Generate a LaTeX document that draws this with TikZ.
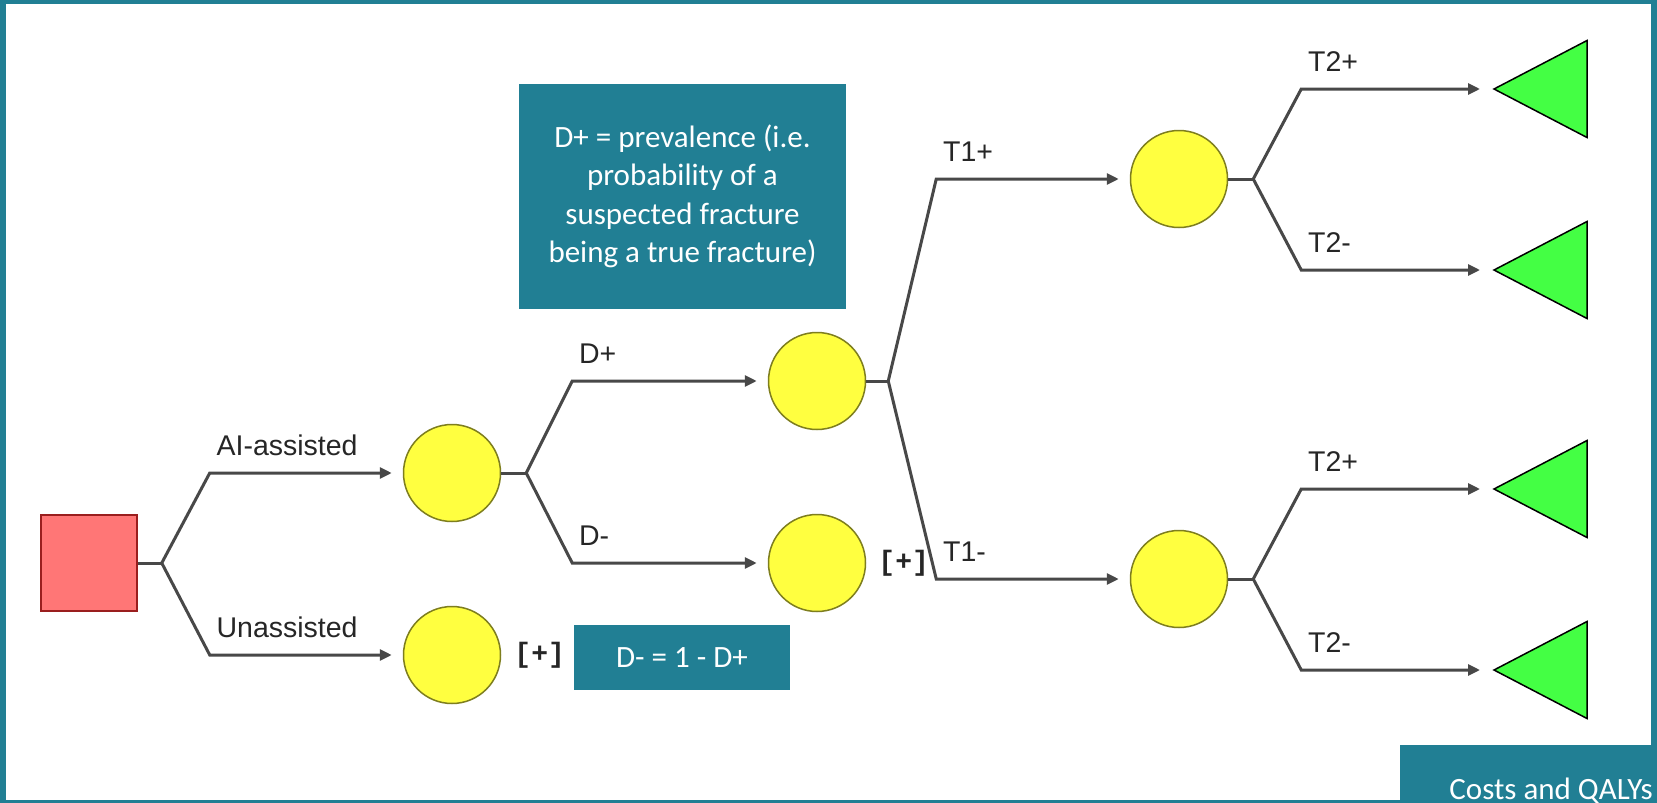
\documentclass[tikz,border=0pt]{standalone}
\usepackage{fontspec}
\setmainfont{Liberation Sans}
\newfontfamily\calibri{Carlito}
\newfontfamily\plusfont{Liberation Mono}
\usepackage{xcolor}
\usetikzlibrary{
  positioning,
  arrows.meta,
  calc
}
\definecolor{tealbox}{HTML}{217F94}
\definecolor{chanceyellow}{HTML}{FFFF40}
\definecolor{chanceedge}{HTML}{7E7E1E}
\definecolor{decisionred}{HTML}{FF7676}
\definecolor{decisionedge}{HTML}{9A1E1E}
\definecolor{termgreen}{HTML}{44FF44}
\definecolor{branchgray}{HTML}{484848}

\begin{document}
\begin{tikzpicture}[
    x=1pt, y=-1pt,
    >={Triangle[length=12pt, width=11pt]},
    chance/.style={circle, draw=chanceedge, line width=1.5pt, fill=chanceyellow, minimum size=97pt, inner sep=0pt},
    decision/.style={rectangle, draw=decisionedge, line width=1.5pt, fill=decisionred, minimum size=96pt, inner sep=0pt},
    terminal/.style={draw=black, line width=1.5pt, fill=termgreen, line join=miter},
    branch/.style={draw=branchgray, line width=3pt},
    tochance/.style={branch, ->, shorten >=11pt},
    toleaf/.style={branch, ->, shorten >=14pt},
    lab/.style={anchor=base west, xshift=2pt, yshift=18pt, text=black!85, font=\fontsize{28.5}{32}\selectfont},
    plus/.style={inner sep=0pt, text=black!85, font=\plusfont\bfseries\fontsize{28}{32}\selectfont},
    note/.style={fill=tealbox, text=white, inner sep=0pt, align=center, font=\calibri\fontsize{31}{38.5}\selectfont}
]
    % 边框
    \useasboundingbox (0,0) rectangle (1657,803);
    \fill[tealbox] (0,0) rectangle (1657,803);
    \fill[white] (6,4) rectangle (1651,800);

    % 说明框
    \node[note, minimum width=327pt, minimum height=225pt] (prevnote) at (682.5,196.5)
        {D+ = prevalence (i.e.\\ probability of a\\ suspected fracture\\ being a true fracture)};
    \node[note, minimum width=216pt, minimum height=65pt] (dmnote) at (682,657.5) {D- = 1 - D+};
    \fill[tealbox] (1400,745) rectangle (1657,803);
    \node[anchor=base east, text=white, inner sep=0pt, font=\calibri\fontsize{31}{36}\selectfont] (costs) at (1653,799) {Costs and QALYs};

    % 决策节点与机会节点
    \node[decision] (dec) at (89,563) {};
    \node[chance] (ai) at (452,473) {};
    \node[chance] (un) at (452,655) {};
    \node[chance] (dp) at (817,381) {};
    \node[chance] (dm) at (817,563) {};
    \node[chance] (tp) at (1179,179) {};
    \node[chance] (tm) at (1179,579) {};
    \node[plus, right=13pt of un] (unplus) {[+]};
    \node[plus, right=12pt of dm] (dmplus) {[+]};

    % 末端节点
    \coordinate (epp) at (1494,89);
    \coordinate (epm) at (1494,270);
    \coordinate (emp) at (1494,489);
    \coordinate (emm) at (1494,670);
    \foreach \e in {epp,epm,emp,emm}
        \draw[terminal] (\e) -- ++(93,-48.5) -- ++(0,97) -- cycle;

    % 分叉点
    \coordinate (f0) at ($(dec.east)+(24,0)$);
    \coordinate (f1) at ($(ai.east)+(25,0)$);
    \coordinate (f2) at ($(dp.east)+(22,0)$);
    \coordinate (f3) at ($(tp.east)+(25,0)$);
    \coordinate (f4) at ($(tm.east)+(25,0)$);
    \foreach \n/\f in {dec/f0, ai/f1, dp/f2, tp/f3, tm/f4}
        \draw[branch] (\n) -- (\f);

    % 分支
    \draw[tochance] (f0) -- ($(f0 |- ai)+(48,0)$) node[lab] {AI-assisted} -- (ai);
    \draw[tochance] (f0) -- ($(f0 |- un)+(48,0)$) node[lab] {Unassisted} -- (un);
    \draw[tochance] (f1) -- ($(f1 |- dp)+(46,0)$) node[lab] {D+} -- (dp);
    \draw[tochance] (f1) -- ($(f1 |- dm)+(46,0)$) node[lab] {D-} -- (dm);
    \draw[tochance] (f2) -- ($(f2 |- tp)+(48,0)$) node[lab] {T1+} -- (tp);
    \draw[tochance] (f2) -- ($(f2 |- tm)+(48,0)$) node[lab] {T1-} -- (tm);
    \draw[toleaf] (f3) -- ($(f3 |- epp)+(48,0)$) node[lab] {T2+} -- (epp);
    \draw[toleaf] (f3) -- ($(f3 |- epm)+(48,0)$) node[lab] {T2-} -- (epm);
    \draw[toleaf] (f4) -- ($(f4 |- emp)+(48,0)$) node[lab] {T2+} -- (emp);
    \draw[toleaf] (f4) -- ($(f4 |- emm)+(48,0)$) node[lab] {T2-} -- (emm);
\end{tikzpicture}
\end{document}
